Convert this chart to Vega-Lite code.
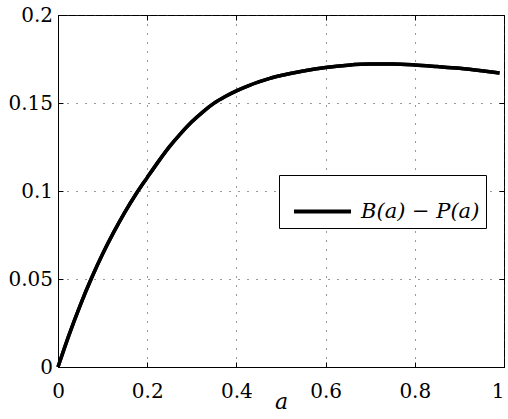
{
  "$schema": "https://vega.github.io/schema/vega-lite/v6.json",
  "width": 446,
  "height": 352,
  "autosize": {"type": "none"},
  "padding": {"left": 58, "top": 15, "right": 4, "bottom": 52},
  "background": "white",
  "config": {
    "view": {"stroke": "black", "strokeWidth": 1},
    "font": "DejaVu Serif",
    "axis": {
      "labelFont": "DejaVu Serif",
      "labelFontSize": 20,
      "labelColor": "black",
      "tickColor": "black",
      "tickWidth": 1,
      "tickSize": -5,
      "domainColor": "black",
      "domainWidth": 1,
      "gridColor": "#333333",
      "gridDash": [1, 8],
      "gridWidth": 1,
      "labelOverlap": false,
      "labelFlush": false
    }
  },
  "data": {
    "values": [
      {"a": 0, "v": 0},
      {"a": 0.025, "v": 0.0184},
      {"a": 0.05, "v": 0.0352},
      {"a": 0.075, "v": 0.0504},
      {"a": 0.1, "v": 0.0642},
      {"a": 0.125, "v": 0.0766},
      {"a": 0.15, "v": 0.088},
      {"a": 0.175, "v": 0.0983},
      {"a": 0.2, "v": 0.1076},
      {"a": 0.225, "v": 0.1167},
      {"a": 0.25, "v": 0.1252},
      {"a": 0.275, "v": 0.1326},
      {"a": 0.3, "v": 0.1393},
      {"a": 0.325, "v": 0.145},
      {"a": 0.35, "v": 0.1499},
      {"a": 0.375, "v": 0.1537},
      {"a": 0.4, "v": 0.1569},
      {"a": 0.425, "v": 0.1596},
      {"a": 0.45, "v": 0.162},
      {"a": 0.475, "v": 0.164},
      {"a": 0.5, "v": 0.1656},
      {"a": 0.55, "v": 0.1682},
      {"a": 0.6, "v": 0.1702},
      {"a": 0.65, "v": 0.1715},
      {"a": 0.7, "v": 0.1721},
      {"a": 0.75, "v": 0.1721},
      {"a": 0.8, "v": 0.1716},
      {"a": 0.85, "v": 0.1707},
      {"a": 0.9, "v": 0.1697},
      {"a": 0.95, "v": 0.1683},
      {"a": 0.99, "v": 0.167}
    ]
  },
  "layer": [
    {
      "mark": {"type": "line", "strokeWidth": 3.5, "strokeCap": "butt", "interpolate": "monotone"},
      "encoding": {
        "x": {
          "field": "a", "type": "quantitative",
          "scale": {"domain": [0, 1], "nice": false, "zero": false},
          "axis": {
            "orient": "bottom",
            "values": [0, 0.2, 0.4, 0.6, 0.8, 1],
            "format": "~g",
            "labelBaseline": "alphabetic",
            "labelPadding": 35,
            "labelAlign": {"condition": {"test": "datum.value == 1", "value": "right"}, "value": "center"},
            "title": "a",
            "titleFont": "DejaVu Serif",
            "titleFontStyle": "italic",
            "titleFontWeight": "normal",
            "titleFontSize": 22,
            "titleColor": "black",
            "titleBaseline": "alphabetic",
            "titleY": 41,
            "grid": true
          }
        },
        "y": {
          "field": "v", "type": "quantitative",
          "scale": {"domain": [0, 0.2], "nice": false, "zero": false},
          "axis": {
            "orient": "left",
            "values": [0, 0.05, 0.1, 0.15, 0.2],
            "format": "~g",
            "labelBaseline": "middle",
            "labelPadding": 10.5,
            "title": null,
            "grid": true
          }
        },
        "color": {
          "datum": "B(a) − P(a)",
          "scale": {"range": ["black"]},
          "legend": {
            "orient": "none",
            "legendX": 221,
            "legendY": 160,
            "title": null,
            "symbolType": "stroke",
            "symbolSize": 3249,
            "symbolStrokeWidth": 4,
            "labelFont": "DejaVu Serif",
            "labelFontStyle": "italic",
            "labelFontSize": 21,
            "labelColor": "black",
            "labelOffset": 8,
            "labelLimit": 0,
            "labelExpr": "datum.label + '\u2002\u2009'",
            "padding": 6,
            "symbolOffset": 7,
            "strokeColor": "black",
            "fillColor": "white"
          }
        }
      }
    },
    {
      "mark": {"type": "line", "strokeWidth": 3.5, "strokeCap": "butt", "color": "black", "interpolate": "monotone"},
      "encoding": {
        "x": {
          "field": "a", "type": "quantitative",
          "scale": {"domain": [0, 1], "nice": false, "zero": false},
          "axis": {
            "orient": "top",
            "values": [0, 0.2, 0.4, 0.6, 0.8, 1],
            "labels": false,
            "domain": false,
            "grid": false,
            "title": null
          }
        },
        "y": {
          "field": "v", "type": "quantitative",
          "scale": {"domain": [0, 0.2], "nice": false, "zero": false},
          "axis": {
            "orient": "right",
            "values": [0, 0.05, 0.1, 0.15, 0.2],
            "labels": false,
            "domain": false,
            "grid": false,
            "title": null
          }
        }
      }
    }
  ],
  "resolve": {"axis": {"x": "independent", "y": "independent"}}
}
